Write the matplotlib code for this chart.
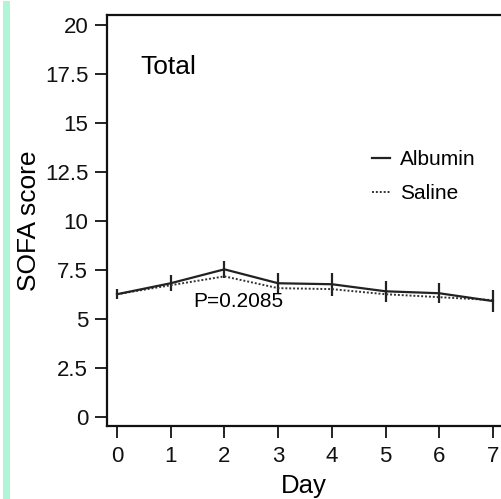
import matplotlib
matplotlib.use("Agg")
import matplotlib.pyplot as plt
from matplotlib.patches import Rectangle
from matplotlib.lines import Line2D

plt.rcParams['font.family'] = ['Liberation Sans', 'DejaVu Sans']

days = [0, 1, 2, 3, 4, 5, 6, 7]
albumin = [6.26, 6.82, 7.53, 6.82, 6.77, 6.41, 6.31, 5.91]
saline = [6.26, 6.72, 7.17, 6.57, 6.52, 6.26, 6.11, 5.96]
albumin_err = [0.25, 0.4, 0.45, 0.5, 0.58, 0.53, 0.5, 0.55]
yticks = [0, 2.5, 5, 7.5, 10, 12.5, 15, 17.5, 20]
ytick_labels = ['0', '2.5', '5', '7.5', '10', '12.5', '15', '17.5', '20']

fig = plt.figure(figsize=(5.01, 4.99), dpi=100)
fig.patches.append(Rectangle((3 / 501, 0), 7 / 501, 498 / 499, transform=fig.transFigure,
                             facecolor='#b0f5d8', edgecolor='none'))
ax = fig.add_axes([107 / 501, 1 - 426 / 499, 394 / 501, 411 / 499])

solid_ls = dict(color='#222222', lw=1.6)
dot_ls = dict(color='#333333', lw=1.4, ls=(0, (1, 1)))

ax.errorbar(days, albumin, yerr=albumin_err, elinewidth=1.6, capsize=0, **solid_ls)
ax.plot(days, saline, **dot_ls)

ax.set_xlim(-0.186, 7.15)
ax.set_ylim(-0.46, 20.5)
ax.set_xticks(days)
ax.set_yticks(yticks)
ax.set_yticklabels(ytick_labels)
ax.spines['right'].set_visible(False)
for s in ['left', 'bottom', 'top']:
    ax.spines[s].set_linewidth(1.6)
    ax.spines[s].set_color('#111111')
ax.tick_params(direction='out', length=8.5, width=1.3, labelsize=16, colors='#111111')
ax.tick_params(axis='y', pad=5)
ax.tick_params(axis='x', pad=6)

ax.set_xlabel('Day', fontsize=18.5, labelpad=5)
ax.set_ylabel('SOFA score', fontsize=19, labelpad=3)

ax.text(0.084, 0.873, 'Total', transform=ax.transAxes, fontsize=19, va='center')
ax.text(1.42, 5.9, 'P=0.2085', fontsize=15, va='center')

handles = [Line2D([], [], **solid_ls), Line2D([], [], **dot_ls)]
ax.legend(handles, ['Albumin', 'Saline'], frameon=False, loc='upper left',
          bbox_to_anchor=(0.673, 0.672), fontsize=15, handlelength=0.85,
          handletextpad=0.5, labelspacing=0.75, borderaxespad=0, borderpad=0)

fig.savefig('out.png', dpi=100)
